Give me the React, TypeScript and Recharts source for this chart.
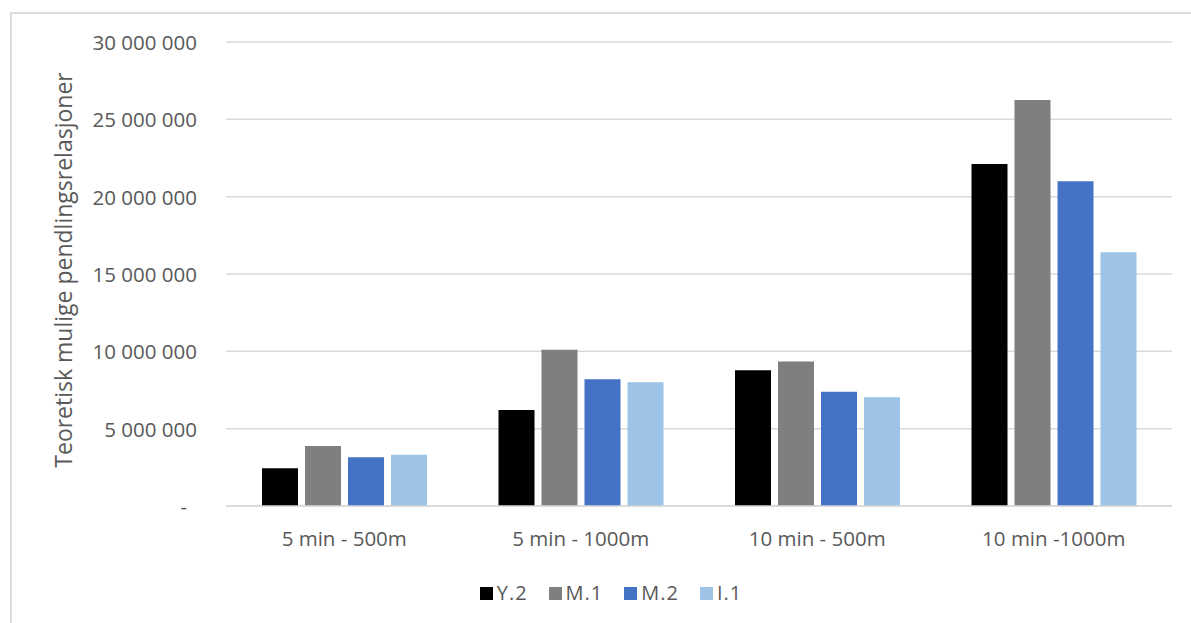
import React from "react";
import { BarChart, Bar, XAxis, YAxis, CartesianGrid } from "recharts";

// Scenario categories (travel time - walking distance)
const categories = ["5 min - 500m", "5 min - 1000m", "10 min - 500m", "10 min -1000m"];

// Theoretical commuting relations per area type
const y2Values = [2440000, 6210000, 8780000, 22110000];
const m1Values = [3880000, 10100000, 9340000, 26250000];
const m2Values = [3150000, 8200000, 7380000, 21000000];
const i1Values = [3320000, 8000000, 7030000, 16410000];

const seriesNames = ["Y.2", "M.1", "M.2", "I.1"];
const seriesColors = ["#000000", "#7f7f7f", "#4472c4", "#9dc3e6"];

const yTicks = [0, 5000000, 10000000, 15000000, 20000000, 25000000, 30000000];
const yTitle = "Teoretisk mulige pendlingsrelasjoner";

const data = categories.map((name, i) => ({
  name,
  "Y.2": y2Values[i],
  "M.1": m1Values[i],
  "M.2": m2Values[i],
  "I.1": i1Values[i],
}));

const FONT = "'Open Sans', sans-serif";
const TEXT = "#595959";

const formatNumber = (v: number) =>
  v === 0 ? "-" : String(v).replace(/\B(?=(\d{3})+(?!\d))/g, " ");

const YTick = (props: any) => {
  const { x, y, payload } = props;
  const isZero = payload.value === 0;
  return (
    <text
      x={isZero ? x - 10 : x}
      y={y}
      textAnchor="end"
      dominantBaseline="central"
      fill={TEXT}
      fontSize={20.5}
      fontFamily={FONT}
    >
      {formatNumber(payload.value)}
    </text>
  );
};

const XTick = (props: any) => {
  const { x, y, payload } = props;
  return (
    <text
      x={x}
      y={y + 32}
      textAnchor="middle"
      dominantBaseline="central"
      fill={TEXT}
      fontSize={20.5}
      fontFamily={FONT}
    >
      {payload.value}
    </text>
  );
};

const AxisTitle = (props: any) => {
  const vb = props.viewBox || { x: 0, y: 42, width: 226, height: 464 };
  const cx = vb.x + 63;
  const cy = vb.y + vb.height / 2 - 4;
  return (
    <text
      x={cx}
      y={cy}
      transform={`rotate(-90 ${cx} ${cy})`}
      textAnchor="middle"
      dominantBaseline="central"
      fill={TEXT}
      fontSize={23}
      fontFamily={FONT}
    >
      {yTitle}
    </text>
  );
};

// Legend row, centred under the full chart frame
const ChartLegend = () => (
  <div
    style={{
      position: "absolute",
      left: 0,
      top: 582,
      width: 1222,
      height: 22,
      display: "flex",
      justifyContent: "center",
      alignItems: "center",
      gap: 21,
      fontFamily: FONT,
      fontSize: 20,
      letterSpacing: 1,
      color: TEXT,
    }}
  >
    {seriesNames.map((n, i) => (
      <div key={n} style={{ display: "flex", alignItems: "center", gap: 4 }}>
        <span style={{ width: 13, height: 13, background: seriesColors[i], display: "inline-block" }} />
        <span style={{ lineHeight: "22px" }}>{n}</span>
      </div>
    ))}
  </div>
);

export default function App() {
  return (
    <div
      style={{
        position: "absolute",
        left: 0,
        top: 0,
        width: 1191,
        height: 623,
        background: "#ffffff",
        overflow: "hidden",
      }}
    >
      <div
        style={{
          position: "absolute",
          left: 10,
          top: 12,
          width: 1400,
          height: 800,
          border: "2px solid #dcdcdc",
          boxSizing: "border-box",
        }}
      />
      <div style={{ position: "absolute", left: 0, top: 0 }}>
        <BarChart
          width={1191}
          height={623}
          data={data}
          margin={{ top: 42, right: 19, bottom: 87, left: 0 }}
          barSize={36}
          barGap={7}
        >
          <CartesianGrid vertical={false} stroke="#d9d9d9" strokeWidth={1.5} />
          <XAxis
            dataKey="name"
            height={30}
            tickLine={false}
            axisLine={{ stroke: "#d9d9d9", strokeWidth: 1.5 }}
            tickSize={0}
            tickMargin={0}
            tick={<XTick />}
            interval={0}
          />
          <YAxis
            width={226}
            domain={[0, 30000000]}
            ticks={yTicks}
            interval={0}
            axisLine={false}
            tickLine={false}
            tickSize={0}
            tickMargin={29}
            tick={<YTick />}
            label={{ content: <AxisTitle /> }}
          />
          {seriesNames.map((n, i) => (
            <Bar key={n} dataKey={n} fill={seriesColors[i]} isAnimationActive={false} />
          ))}
        </BarChart>
      </div>
      <ChartLegend />
    </div>
  );
}
